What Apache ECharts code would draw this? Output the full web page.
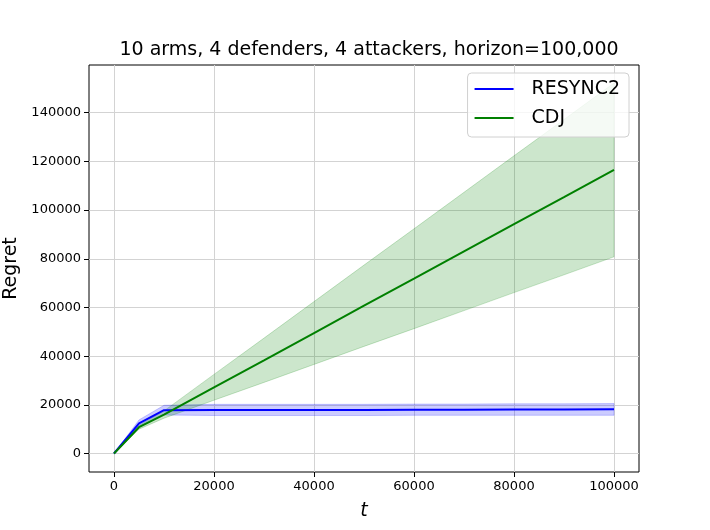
<!DOCTYPE html>
<html>
<head>
<meta charset="utf-8">
<script src="https://cdn.jsdelivr.net/npm/echarts@6/dist/echarts.min.js"></script>
<style>
  html, body { margin: 0; padding: 0; background: #fff; }
  #chart { width: 710px; height: 530px; }
</style>
</head>
<body>
<div id="chart"></div>
<script>
// horizon steps (t)
const tValues = [0, 5000, 10000, 20000, 30000, 40000, 50000, 60000, 70000, 80000, 90000, 100000]

// RESYNC2 mean regret and band
const resyncMean = [0, 12400, 17800, 17900, 17900, 17900, 17900, 18000, 18000, 18100, 18100, 18200]
const resyncLow = [0, 11000, 15800, 15600, 15600, 15600, 15600, 15700, 15700, 15700, 15700, 15700]
const resyncHigh = [0, 13800, 19800, 20200, 20200, 20200, 20200, 20300, 20300, 20400, 20400, 20500]

// CDJ mean regret and band
const cdjMean = [0, 10800, 16000, 27200, 38300, 49500, 60700, 71800, 83000, 94200, 105300, 116500]
const cdjLow = [0, 10000, 14500, 21900, 29200, 36600, 44000, 51300, 58700, 66100, 73400, 80800]
const cdjHigh = [0, 11600, 17500, 32500, 47400, 62400, 77400, 92300, 107300, 122300, 137200, 152200]

const xTicks = [0, 20000, 40000, 60000, 80000, 100000]
const yTicks = [0, 20000, 40000, 60000, 80000, 100000, 120000, 140000]

const pairs = (ys) => tValues.map((t, i) => [t, ys[i]])

const font = 'DejaVu Sans'

// shaded band (fill_between) as one polygon, placed with the axis scales
const bandSeries = (name, lo, hi, fill) => ({
  name: name,
  type: 'custom',
  silent: true,
  z: 1,
  data: tValues.map((t, i) => [t, lo[i], hi[i]]),
  encode: { x: 0, y: [1, 2] },
  renderItem: (params, api) => {
    if (params.dataIndex !== 0) return null
    const top = tValues.map((t, i) => api.coord([t, hi[i]]))
    const bottom = tValues.map((t, i) => api.coord([t, lo[i]])).reverse()
    return {
      type: 'polygon',
      shape: { points: top.concat(bottom) },
      style: { fill: fill, stroke: fill, lineWidth: 1 }
    }
  }
})

const myEchart = echarts.init(document.getElementById('chart'))

const option = {
  animation: false,
  backgroundColor: '#fff',
  title: {
    text: '10 arms, 4 defenders, 4 attackers, horizon=100,000',
    left: 364,
    textAlign: 'center',
    top: 36,
    textStyle: {
      fontFamily: font,
      fontSize: 19,
      fontWeight: 'normal',
      color: '#000'
    }
  },
  legend: {
    data: ['RESYNC2', 'CDJ'],
    orient: 'vertical',
    right: 81,
    top: 73,
    padding: [5, 9, 8, 7],
    itemGap: 7,
    itemWidth: 39,
    itemHeight: 2,
    icon: 'rect',
    backgroundColor: 'rgba(255,255,255,0.8)',
    borderColor: '#d0d0d0',
    borderWidth: 1,
    borderRadius: 4,
    textStyle: {
      fontFamily: font,
      fontSize: 19,
      lineHeight: 22,
      color: '#000',
      padding: [0, 0, 0, 13]
    }
  },
  grid: {
    left: 89,
    right: 71,
    top: 65,
    bottom: 58,
    outerBoundsMode: 'none',
    containLabel: false,
    show: true,
    borderColor: '#000',
    borderWidth: 1,
    backgroundColor: 'transparent'
  },
  xAxis: {
    type: 'value',
    min: -5000,
    max: 105000,
    name: 't',
    nameLocation: 'middle',
    nameGap: 30,
    nameTextStyle: {
      fontFamily: font,
      fontSize: 19,
      fontStyle: 'italic',
      color: '#000'
    },
    axisLine: { show: false, onZero: false },
    axisTick: {
      show: true,
      length: 5,
      customValues: xTicks,
      lineStyle: { color: '#000' }
    },
    axisLabel: {
      customValues: xTicks,
      formatter: (v) => String(v),
      margin: 8,
      fontFamily: font,
      fontSize: 13,
      color: '#000'
    },
    splitLine: {
      show: true,
      lineStyle: { color: '#d3d3d3', width: 1 }
    }
  },
  yAxis: {
    type: 'value',
    min: -7600,
    max: 159600,
    name: 'Regret',
    nameLocation: 'middle',
    nameGap: 59,
    nameTextStyle: {
      fontFamily: font,
      fontSize: 19,
      color: '#000'
    },
    axisLine: { show: false, onZero: false },
    axisTick: {
      show: true,
      length: 5,
      customValues: yTicks,
      lineStyle: { color: '#000' }
    },
    axisLabel: {
      customValues: yTicks,
      formatter: (v) => String(v),
      margin: 8,
      fontFamily: font,
      fontSize: 13,
      color: '#000'
    },
    splitLine: {
      show: true,
      lineStyle: { color: '#d3d3d3', width: 1 }
    }
  },
  series: [
    bandSeries('resyncBand', resyncLow, resyncHigh, 'rgba(0,0,255,0.2)'),
    bandSeries('cdjBand', cdjLow, cdjHigh, 'rgba(0,128,0,0.2)'),
    {
      name: 'RESYNC2',
      type: 'line',
      data: pairs(resyncMean),
      showSymbol: false,
      color: '#0000ff',
      lineStyle: { width: 2 },
      z: 3
    },
    {
      name: 'CDJ',
      type: 'line',
      data: pairs(cdjMean),
      showSymbol: false,
      color: '#008000',
      lineStyle: { width: 2 },
      z: 3
    }
  ]
}

myEchart.setOption(option)
</script>
</body>
</html>
